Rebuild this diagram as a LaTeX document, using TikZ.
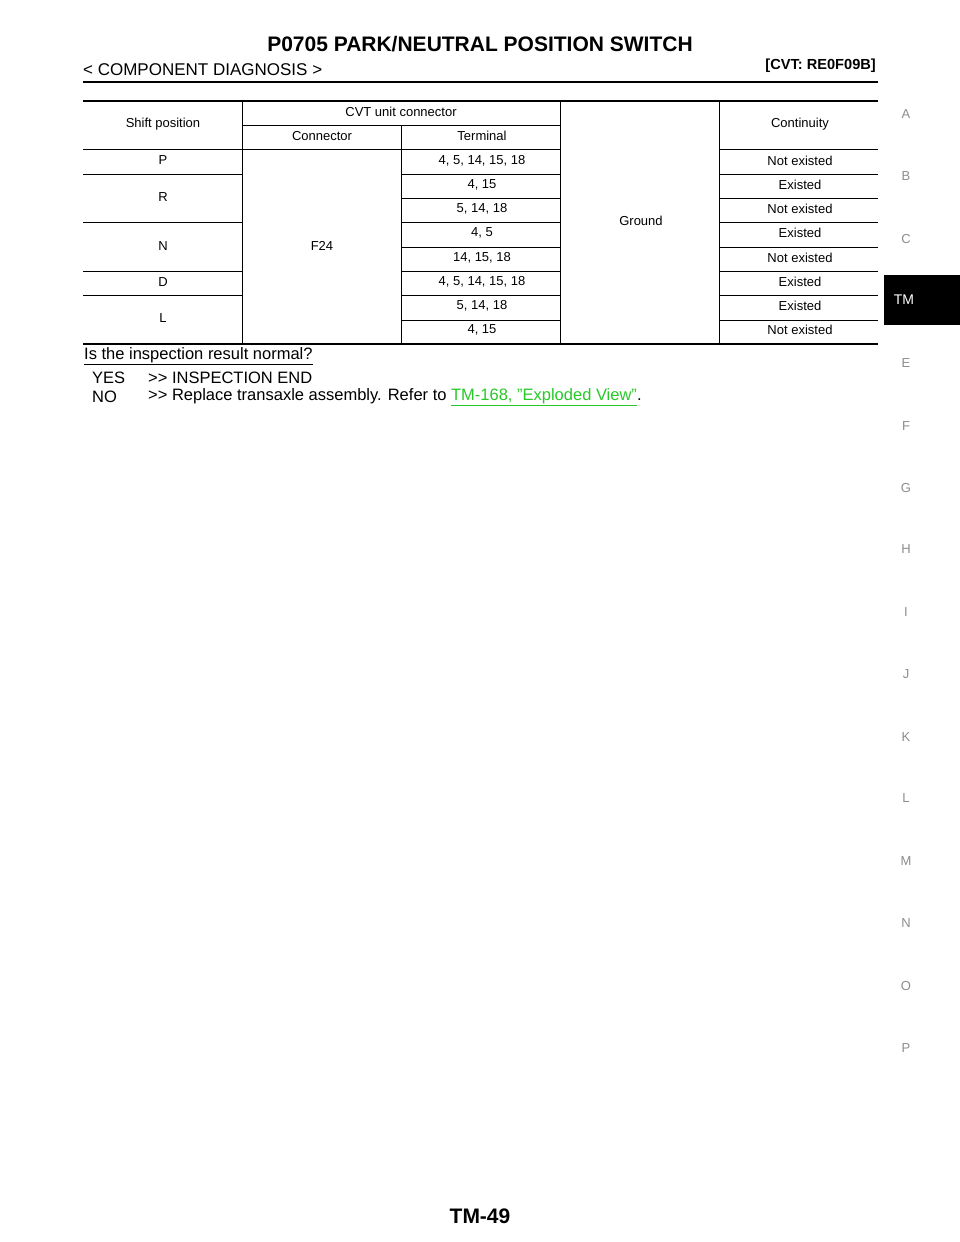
\documentclass[tikz,border=0pt]{standalone}
\usepackage{fontspec}
\setmainfont{Liberation Sans}
\begin{document}
\begin{tikzpicture}[x=1pt,y=-1pt,
  cell/.style={font=\fontsize{13}{15}\selectfont,inner sep=0pt},
  body/.style={font=\fontsize{16.5}{18}\selectfont,inner sep=0pt,anchor=west},
  tab/.style={font=\fontsize{13}{15}\selectfont,text=black!45,inner sep=0pt},
  thin/.style={line width=0.5pt},
  thick/.style={line width=1.5pt}]
\useasboundingbox (0,0) rectangle (960,1242);
% header
\node[inner sep=0pt,font=\bfseries\fontsize{21}{24}\selectfont] (title) at (480,44) {P0705 PARK/NEUTRAL POSITION SWITCH};
\node[body,font=\fontsize{17}{19}\selectfont] (sec) at (83,70) {< COMPONENT DIAGNOSIS >};
\node[inner sep=0pt,anchor=east,font=\bfseries\fontsize{14.6}{17}\selectfont] (model) at (876,66) {[CVT: RE0F09B]};
\draw[line width=2pt] (83,82) -- (878,82);
% table lines
\draw[thick] (83,101) -- (878,101);
\draw[thick] (83,344) -- (878,344);
\foreach \x in {242,560,719} \draw[thin] (\x,101) -- (\x,344);
\draw[thin] (401,125) -- (401,344);
\draw[thin] (242,125) -- (560,125);
\draw[thin] (83,149) -- (560,149);
\draw[thin] (719,149) -- (878,149);
\foreach \y in {174,222,271,295} \draw[thin] (83,\y) -- (242,\y);
\foreach \y in {174,198,222,247,271,295,320} {\draw[thin] (401,\y) -- (560,\y); \draw[thin] (719,\y) -- (878,\y);}
% header cells
\node[cell] (h1) at (163,124) {Shift position};
\node[cell] (h2) at (401,112) {CVT unit connector};
\node[cell] (h3) at (322,136) {Connector};
\node[cell] (h4) at (482,136) {Terminal};
\node[cell] (h5) at (800,124) {Continuity};
\node[cell] (gnd) at (641,221) {Ground};
\node[cell] (f24) at (322,246) {F24};
% shift positions
\node[cell] (p) at (163,160) {P};
\node[cell] (r) at (163,197) {R};
\node[cell] (n) at (163,246) {N};
\node[cell] (d) at (163,282) {D};
\node[cell] (l) at (163,318) {L};
% terminals & continuity
\foreach \y/\t/\c [count=\i] in {161/{4, 5, 14, 15, 18}/Not existed, 185/{4, 15}/Existed, 209/{5, 14, 18}/Not existed, 233/{4, 5}/Existed, 258/{14, 15, 18}/Not existed, 282/{4, 5, 14, 15, 18}/Existed, 306/{5, 14, 18}/Existed, 330/{4, 15}/Not existed}
{\node[cell] (t\i) at (482,\y) {\t}; \node[cell] (c\i) at (800,\y) {\c};}
% text below
\node[body] (q) at (84,356) {\underline{Is the inspection result normal?}};
\node[body] (yes) at (92,378) {YES};
\node[body] (yesr) at (148,378) {{>}{>} INSPECTION END};
\node[body] (no) at (92,397) {NO};
\node[body] (nor) at (148,397) {{>}{>} Replace transaxle assembly. Refer to \textcolor[RGB]{40,200,40}{\underline{TM-168, "Exploded View"}}.};
% side tabs
\fill[black] (884,275) rectangle (960,325);
\node[inner sep=0pt,text=white,font=\fontsize{14}{16}\selectfont] (tm) at (904,300) {TM};
\foreach \lt/\y in {A/114,B/176,C/239,E/363,F/426,G/488,H/549,I/612,J/674,K/737,L/798,M/861,N/923,O/986,P/1048}
  \node[tab] (tab\lt) at (906,\y) {\lt};
% footer
\node[inner sep=0pt,font=\bfseries\fontsize{21}{24}\selectfont] (foot) at (480,1216) {TM-49};
\end{tikzpicture}
\end{document}
